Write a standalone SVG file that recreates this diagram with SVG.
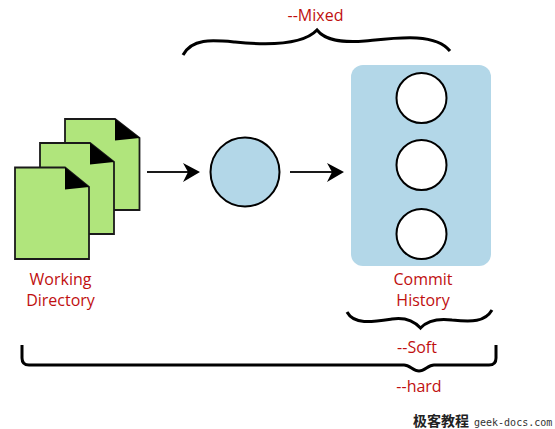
<svg xmlns="http://www.w3.org/2000/svg" width="555" height="429" viewBox="0 0 555 429">
<style>
.doc{fill:#b0e57c;stroke:#1a1a1a;stroke-width:1.8}
.fold{fill:#000;stroke:none}
.lbl{font-family:"Open Sans","Noto Sans",sans-serif;font-size:16px;fill:#c00f0f;text-anchor:middle}
.brace{fill:none;stroke:#000;stroke-width:3}
.arrow{fill:none;stroke:#1a1a1a;stroke-width:2}
.head{fill:#000}
.c{stroke:#000;stroke-width:2}
</style>
<rect width="555" height="429" fill="#fff"/>
<g id="connectors">
<path class="arrow" d="M147 172H190"/>
<path class="head" d="M183 163L200 172L183 182L188 172Z"/>
<path class="arrow" d="M290 172H334"/>
<path class="head" d="M327 163L344 172L327 182L332 172Z"/>
<path class="brace" d="M183 55C192 38 212 40 235 42C265 45 302 46 317 30C325 40 340 43 365 41C395 38 435 32 450 51"/>
<path class="brace" d="M347 312C354 325 372 322 392 319C405 317 414 321 420.500 328C427 321 436 318 452 320C472 322 485 322 492 310"/>
<path class="brace" d="M22 345V358Q22 365 29 365H404C410 365 413 371 419 371C425 371 428 365 434 365H489Q496 365 496 358V345"/>
</g>
<g id="doc3">
<path class="doc" d="M65 119H115L139.500 138V210H65Z"/>
<path class="fold" d="M115 119L139.500 138L115 140.500Z"/>
</g>
<g id="doc2">
<path class="doc" d="M40 143H90L114 162V234H40Z"/>
<path class="fold" d="M90 143L114 162L90 164.500Z"/>
</g>
<g id="doc1">
<path class="doc" d="M15 167.500H65L89 187V259H15Z"/>
<path class="fold" d="M65 167.500L89 187L65 189.500Z"/>
</g>
<g id="working-directory">
<text class="lbl" x="60.500" y="285">Working</text>
<text class="lbl" x="60.500" y="306">Directory</text>
</g>
<g id="staging">
<circle cx="245" cy="172" r="34.500" fill="#b3d7e8" stroke="#000" stroke-width="2"/>
</g>
<g id="commit-history">
<rect x="351" y="65" width="140" height="201" rx="12" fill="#b3d7e8"/>
<circle class="c" cx="421.500" cy="98" r="25" fill="#fff"/>
<circle class="c" cx="421.500" cy="165" r="25" fill="#fff"/>
<circle class="c" cx="421.500" cy="234" r="25" fill="#fff"/>
<text class="lbl" x="423" y="285">Commit</text>
<text class="lbl" x="423" y="306">History</text>
</g>
<g id="labels">
<text class="lbl" x="315.500" y="21">--Mixed</text>
<text class="lbl" x="417" y="353">--Soft</text>
<text class="lbl" x="419" y="392">--hard</text>
</g>
<g id="watermark">
<text x="413" y="426" font-family="'Noto Sans CJK SC',sans-serif" font-size="14" font-weight="700" fill="#222">极客教程</text>
<text x="474" y="426" font-family="'DejaVu Sans Mono','Liberation Mono',monospace" font-size="10" fill="#333">geek-docs.com</text>
</g>
</svg>
